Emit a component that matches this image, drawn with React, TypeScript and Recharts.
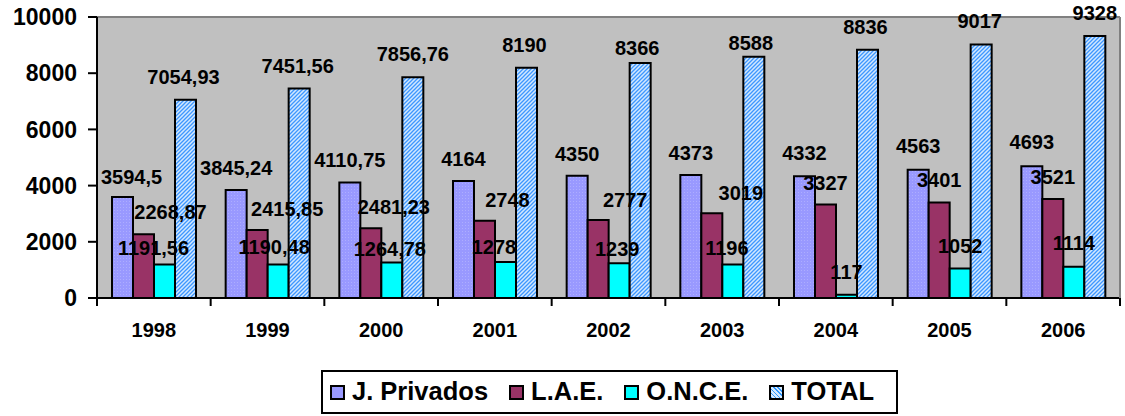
import React from 'react';
import { BarChart, Bar, XAxis, YAxis, Legend, LabelList, ReferenceLine, CartesianGrid } from 'recharts';

const years = ['1998', '1999', '2000', '2001', '2002', '2003', '2004', '2005', '2006'];
const jPrivados = [3594.5, 3845.24, 4110.75, 4164, 4350, 4373, 4332, 4563, 4693];
const lae = [2268.87, 2415.85, 2481.23, 2748, 2777, 3019, 3327, 3401, 3521];
const once = [1191.56, 1190.48, 1264.78, 1278, 1239, 1196, 117, 1052, 1114];
const total = [7054.93, 7451.56, 7856.76, 8190, 8366, 8588, 8836, 9017, 9328];
const yTicks = [0, 2000, 4000, 6000, 8000, 10000];

const series = [
  { key: 'jp', name: 'J. Privados', fill: 'url(#patJP)', legend: '#9999FF' },
  { key: 'lae', name: 'L.A.E.', fill: '#993366', legend: '#993366' },
  { key: 'once', name: 'O.N.C.E.', fill: '#00FFFF', legend: '#00FFFF' },
  { key: 'total', name: 'TOTAL', fill: 'url(#patTotal)', legend: 'pattern' },
];

// label nudges (style): horizontal shift and distance of label centre above bar top
const labelDx: Record<string, number[]> = {
  jp: [9, 0, 0, 0, 0, 0, 0, 0, 0],
  lae: [27, 30, 23, 23, 27, 29, 0, 0, 0],
  once: [-11, -4, -2, -11.5, -2, -6, 0, 0, 0],
  total: [-2, -1.5, 0, -2, -3, -3, -2, -1.5, 0],
};
const labelRise: Record<string, number[]> = {
  jp: [20, 22, 23, 22, 22, 22.5, 23, 24, 24],
  lae: [22, 21.5, 21.3, 20.5, 20.4, 20.2, 21.5, 23, 22],
  once: [17, 17.5, 14, 15, 14.6, 16.8, 22.7, 23, 24],
  total: [23, 23, 23.6, 22.6, 15, 13.7, 22.7, 23.3, 23],
};

const data = years.map((y, i) => ({
  year: y,
  jp: jPrivados[i],
  lae: lae[i],
  once: once[i],
  total: total[i],
}));

const FONT = '"Liberation Sans", Arial, sans-serif';

const fmt = (v: number) => String(v).replace('.', ',');

const makeLabel = (key: string) => (props: any) => {
  const { x, y, width, value, index } = props;
  const cx = Number(x) + Number(width) / 2 + (labelDx[key][index] || 0);
  const cy = Number(y) - (labelRise[key][index] || 23);
  return (
    <text
      x={cx}
      y={cy}
      dy="0.358em"
      textAnchor="middle"
      fontFamily={FONT}
      fontWeight="bold"
      fontSize={20}
      fill="#000"
    >
      {fmt(Number(value))}
    </text>
  );
};

const XTick = (props: any) => {
  const { x, y, payload, index } = props;
  const off = payload && typeof payload.offset === 'number' && payload.offset > 0 ? payload.offset : 56.83;
  return (
    <g>
      <line x1={x - off} x2={x - off} y1={y} y2={y + 8} stroke="#000" strokeWidth={2} />
      {index === years.length - 1 && (
        <line x1={x + off} x2={x + off} y1={y} y2={y + 8} stroke="#000" strokeWidth={2} />
      )}
      <text
        x={x}
        y={y + 31.5}
        dy="0.358em"
        textAnchor="middle"
        fontFamily={FONT}
        fontWeight="bold"
        fontSize={20}
        fill="#000"
      >
        {payload.value}
      </text>
    </g>
  );
};

const LegendContent = () => (
  <div
    style={{
      boxSizing: 'border-box',
      width: 577,
      height: 44,
      border: '2px solid #000',
      background: '#fff',
      display: 'flex',
      alignItems: 'center',
      paddingLeft: 7,
      fontFamily: FONT,
      fontWeight: 'bold',
      fontSize: 25.5,
      color: '#000',
    }}
  >
    {series.map((s, i) => (
      <div key={s.key} style={{ display: 'flex', alignItems: 'center', marginRight: i < series.length - 1 ? 21 : 0 }}>
        <span
          style={{
            display: 'inline-block',
            boxSizing: 'border-box',
            width: 15,
            height: 15,
            border: '2px solid #000',
            marginRight: 7,
            background:
              s.legend === 'pattern'
                ? 'repeating-linear-gradient(45deg, #3399FF 0px, #3399FF 1px, #D6EBFF 1px, #D6EBFF 3px)'
                : s.legend,
          }}
        />
        <span style={{ lineHeight: '1' }}>{s.name}</span>
      </div>
    ))}
  </div>
);

export default function App() {
  return (
    <div style={{ position: 'absolute', left: 0, top: 0, width: 1125, height: 416, background: '#fff' }}>
      <BarChart
        width={1125}
        height={416}
        data={data}
        margin={{ top: 17, right: 0, bottom: 2, left: 0 }}
        barSize={21}
        barGap={0}
      >
        <defs>
          <pattern id="patJP" width="3" height="3" patternUnits="userSpaceOnUse">
            <rect width="3" height="3" fill="#9999FF" />
            <rect width="1" height="1" fill="#ADADFF" />
          </pattern>
          <pattern id="patTotal" width="4" height="4" patternUnits="userSpaceOnUse">
            <rect width="4" height="4" fill="#D2E8FF" />
            <path d="M0,4 L4,0 M-1,1 L1,-1 M3,5 L5,3" stroke="#3D97FF" strokeWidth={1.3} />
          </pattern>
        </defs>
        <CartesianGrid fill="#C0C0C0" horizontal={false} vertical={false} stroke="none" />
        <XAxis
          dataKey="year"
          height={72}
          axisLine={{ stroke: '#000', strokeWidth: 2 }}
          tickLine={false}
          tickSize={0}
          tickMargin={0}
          interval={0}
          tick={<XTick />}
        />
        <YAxis
          yAxisId="left"
          width={97}
          domain={[0, 10000]}
          ticks={yTicks}
          interval={0}
          axisLine={{ stroke: '#000', strokeWidth: 2 }}
          tickLine={{ stroke: '#000', strokeWidth: 2 }}
          tickSize={9}
          tickMargin={11}
          tick={{ fontFamily: FONT, fontWeight: 'bold', fontSize: 23, fill: '#000' }}
        />
        <YAxis
          yAxisId="right"
          orientation="right"
          width={5}
          domain={[0, 10000]}
          tick={false}
          tickLine={false}
          axisLine={{ stroke: '#808080', strokeWidth: 2 }}
        />
        <ReferenceLine yAxisId="left" y={10000} stroke="#808080" strokeWidth={2} />
        {series.map((s) => (
          <Bar
            key={s.key}
            yAxisId="left"
            dataKey={s.key}
            name={s.name}
            fill={s.fill}
            stroke="#000"
            strokeWidth={2}
            isAnimationActive={false}
          >
            <LabelList dataKey={s.key} content={makeLabel(s.key)} />
          </Bar>
        ))}
        <Legend
          verticalAlign="bottom"
          layout="horizontal"
          wrapperStyle={{ left: 321, width: 577, height: 44 }}
          content={<LegendContent />}
        />
      </BarChart>
    </div>
  );
}
